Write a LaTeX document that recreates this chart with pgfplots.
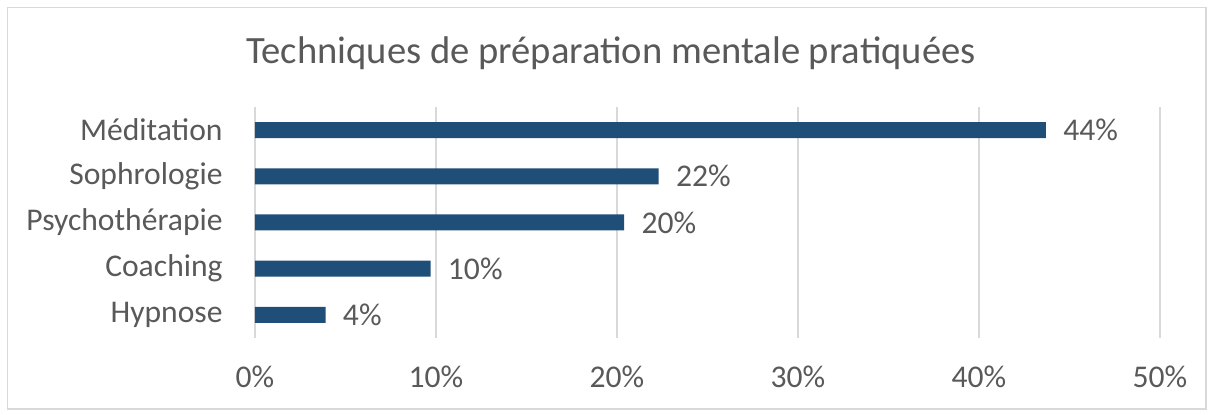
\documentclass[border=0pt]{standalone}
\usepackage{pgfplots}
\pgfplotsset{compat=1.18}
\usepackage{fontspec}
\setmainfont{Carlito}
\definecolor{barblue}{RGB}{31,78,121}
\definecolor{txtgray}{RGB}{89,89,89}
\definecolor{gridgray}{RGB}{217,217,217}
\begin{document}
\begin{tikzpicture}
\useasboundingbox (-127.5pt,-38.5pt) rectangle (479.5pt,169pt);
\draw[gridgray, line width=0.75pt] (-123.75pt,-35.5pt) rectangle (475.5pt,165.25pt);
\begin{axis}[
  at={(0pt,0pt)}, anchor=south west,
  scale only axis,
  width=452.5pt, height=115.5pt,
  xmin=0, xmax=50,
  ymin=-0.5, ymax=4.5,
  xbar, bar width=8pt,
  xtick={0,10,20,30,40,50},
  xticklabels={0\%,10\%,20\%,30\%,40\%,50\%},
  ytick={0,1,2,3,4},
  yticklabels={Hypnose,Coaching,Psychothérapie,Sophrologie,Méditation},
  axis line style={draw=none},
  major tick length=0pt,
  xmajorgrids,
  major grid style={gridgray, line width=0.75pt},
  ymajorgrids=false,
  /pgf/number format/assume math mode=true,
  tick label style={font=\fontsize{15.8}{19}\selectfont, text=txtgray},
  xticklabel style={anchor=base, inner sep=0pt, yshift=-25pt},
  yticklabel style={anchor=east, inner sep=0pt, xshift=-16pt},
  point meta=x,
  nodes near coords={\pgfmathprintnumber[fixed,precision=0]{\pgfplotspointmeta}\%},
  every node near coord/.append style={anchor=west, inner sep=0pt, xshift=8.5pt, font=\fontsize{15.8}{19}\selectfont, text=txtgray},
  clip=false,
]
\addplot[fill=barblue, draw=none] coordinates {(3.9,0) (9.7,1) (20.4,2) (22.3,3) (43.7,4)};
\end{axis}
\node[anchor=base, text=txtgray, font=\fontsize{19.3}{23}\selectfont, inner sep=0pt] at (178pt,137pt) {Techniques de préparation mentale pratiquées};
\end{tikzpicture}
\end{document}
